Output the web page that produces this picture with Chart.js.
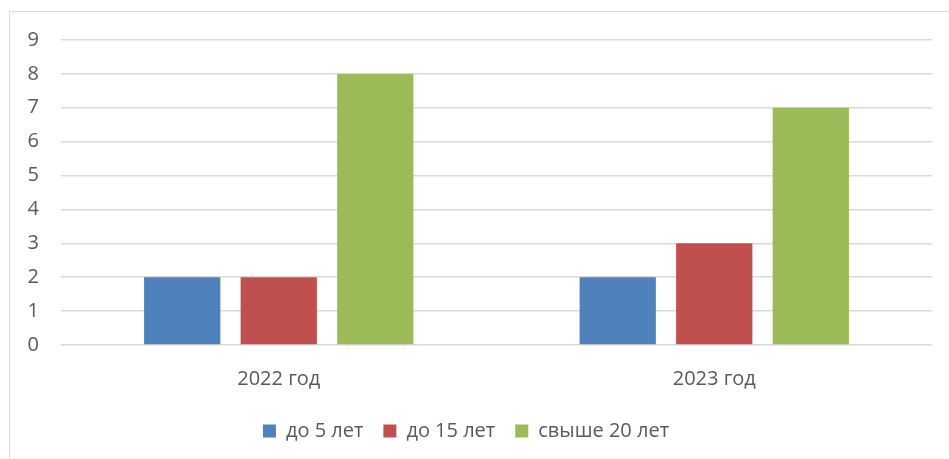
<!DOCTYPE html>
<html lang="ru">
<head>
  <meta charset="UTF-8" />
  <title>Диаграмма</title>
  <script src="https://cdn.jsdelivr.net/npm/chart.js"></script>
  <style>
    body { margin: 0; background: #fff; }
    #wrap { position: relative; width: 949px; height: 459px; overflow: hidden; }
    #frame { position: absolute; left: 9px; top: 11px; width: 1000px; height: 500px; border: 1px solid #d9d9d9; }
    canvas { position: absolute; left: 0; top: 0; }
  </style>
</head>
<body>
  <div id="wrap">
    <div id="frame"></div>
    <canvas id="grafico" width="949" height="459"></canvas>
  </div>

  <script>
    // данные
    const categories = ['2022 год', '2023 год'];
    const seriesNames = ['до 5 лет', 'до 15 лет', 'свыше 20 лет'];
    const do5 = [2, 2];
    const do15 = [2, 3];
    const svyshe20 = [8, 7];
    const yTicks = [0, 1, 2, 3, 4, 5, 6, 7, 8, 9];

    const colors = ['#4F81BD', '#C0504D', '#9BBB59'];
    const fontFamily = '"Open Sans", "Noto Sans", sans-serif';

    const chart = new Chart(document.getElementById('grafico'), {
      type: 'bar',
      data: {
        labels: categories,
        datasets: [do5, do15, svyshe20].map((d, i) => ({
          label: seriesNames[i],
          data: d,
          backgroundColor: colors[i],
          categoryPercentage: 0.665,
          barPercentage: 0.79
        }))
      },
      options: {
        responsive: false,
        animation: false,
        layout: { padding: { left: 0, right: 17, top: 40, bottom: 8 } },
        plugins: {
          tooltip: { enabled: false },
          legend: {
            position: 'bottom',
            labels: {
              boxWidth: 13,
              boxHeight: 13,
              padding: 20,
              color: '#595959',
              font: { family: fontFamily, size: 20 }
            }
          }
        },
        scales: {
          x: {
            grid: { display: false },
            border: { display: false },
            ticks: { color: '#595959', padding: 14, font: { family: fontFamily, size: 20 } },
            afterFit: s => { s.height = 56; }
          },
          y: {
            min: 0,
            max: 9,
            afterBuildTicks: s => { s.ticks = yTicks.map(v => ({ value: v })); },
            grid: { color: '#d9d9d9', lineWidth: 1.5, drawTicks: false },
            border: { display: false },
            ticks: { color: '#595959', padding: 22, font: { family: fontFamily, size: 20 } },
            afterFit: s => { s.width = 61; }
          }
        }
      }
    });
  </script>
</body>
</html>
